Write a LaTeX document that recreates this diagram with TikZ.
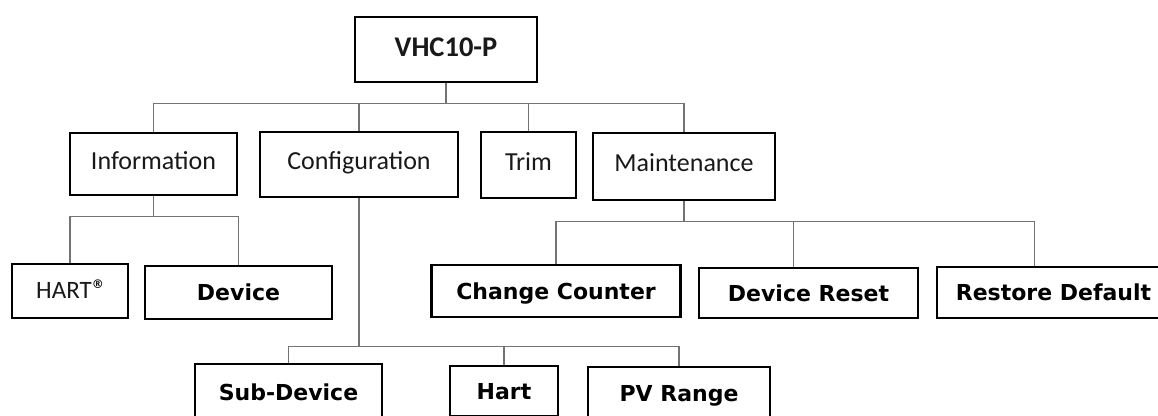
\documentclass[tikz,border=0pt]{standalone}
\usepackage{fontspec}
\setmainfont{Carlito}
\newfontfamily\verd{DejaVu Sans}
\usetikzlibrary{positioning}

\begin{document}
\begin{tikzpicture}[x=1pt, y=-1pt,
  box/.style={draw, line width=2.8pt, inner sep=0pt, text=black!90},
  lvl/.style={box, font=\fontsize{26}{30}\selectfont, text height=16.6pt, text depth=6.5pt},
  leaf/.style={box, text=black, font=\verd\bfseries\fontsize{22}{26}\selectfont, text height=16pt, text depth=0pt},
  link/.style={draw=black!55, line width=1.3pt}]

\useasboundingbox (0,0) rectangle (1158,415);
\clip (0,0) rectangle (1158,415);

\node[box, minimum width=182pt, minimum height=65pt, font=\bfseries\fontsize{28.5}{32}\selectfont, text height=18.4pt, text depth=4pt] (root) at (446,49.5) {VHC10-P};

\node[lvl, minimum width=167pt, minimum height=62pt] (info) at (153.5,164) {Information};
\node[lvl, minimum width=198pt, minimum height=65pt] (config) at (359,164.5) {Configuration};
\node[lvl, minimum width=95pt, minimum height=66pt] (trim) at (528.5,165) {Trim};
\node[lvl, minimum width=182pt, minimum height=67pt] (maint) at (684,166.5) {Maintenance};

\node[lvl, minimum width=116pt, minimum height=54pt, font=\fontsize{25}{30}\selectfont, text height=16pt, text depth=1pt] (hart) at (70,291) {HART\raisebox{10pt}{\verd\bfseries\fontsize{12}{12}\selectfont ®}};
\node[leaf, minimum width=187pt, minimum height=53pt] (device) at (238.5,292.5) {Device};
\node[leaf, minimum width=249pt, minimum height=52pt] (change) at (556,291) {Change Counter};
\node[leaf, minimum width=219pt, minimum height=50pt] (reset) at (808.5,293) {Device Reset};
\node[leaf, minimum width=233pt, minimum height=51pt] (restore) at (1053.5,292.5) {Restore Default};

\node[leaf, minimum width=187pt, minimum height=56pt] (subdev) at (288.5,392) {Sub-Device};
\node[leaf, minimum width=108pt, minimum height=50pt] (hartcfg) at (504,391) {Hart};
\node[leaf, minimum width=182pt, minimum height=52pt] (pv) at (679,393) {PV Range};

\draw[link] (root.south) -- ++(0,20) coordinate (bus1);
\foreach \c in {info, config, trim, maint}
  \draw[link] (bus1) -| (\c.north);

\draw[link] (info.south) -- ++(0,20) coordinate (bus2);
\foreach \c in {hart, device}
  \draw[link] (bus2) -| (\c.north);

\draw[link] (config.south) -- ++(0,148) coordinate (bus3);
\foreach \c in {subdev, hartcfg, pv}
  \draw[link] (bus3) -| (\c.north);

\draw[link] (maint.south) -- ++(0,20) coordinate (bus4);
\draw[link] (bus4) -| (change.north);
\draw[link] (bus4) -| ([xshift=-15pt]reset.north);
\draw[link] (bus4) -| ([xshift=-19pt]restore.north);

\end{tikzpicture}
\end{document}
